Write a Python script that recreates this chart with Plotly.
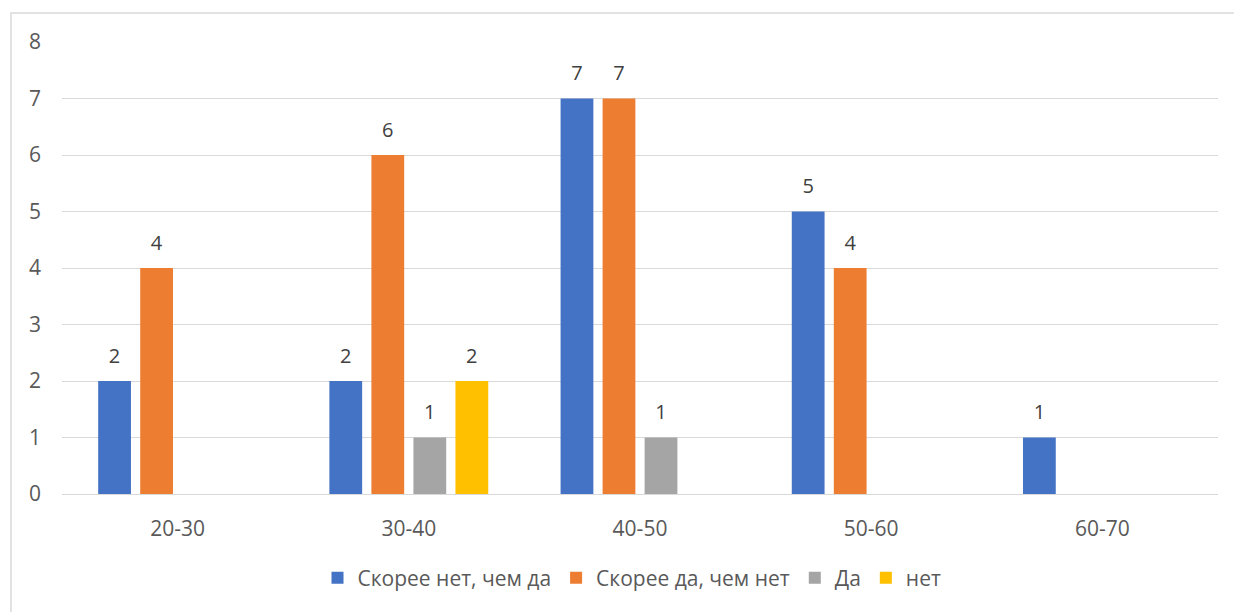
import plotly.graph_objects as go

categories = ["20-30", "30-40", "40-50", "50-60", "60-70"]
series_names = ["Скорее нет, чем да", "Скорее да, чем нет", "Да", "нет"]
values_no_rather = [2, 2, 7, 5, 1]
values_yes_rather = [4, 6, 7, 4, None]
values_yes = [None, 1, 1, None, None]
values_no = [None, 2, None, None, None]
colors = ["#4472C4", "#ED7D31", "#A5A5A5", "#FFC000"]
y_ticks = [0, 1, 2, 3, 4, 5, 6, 7, 8]

all_values = [values_no_rather, values_yes_rather, values_yes, values_no]

fig = go.Figure()
for i, (name, vals, col) in enumerate(zip(series_names, all_values, colors)):
    fig.add_trace(go.Bar(
        x=categories, y=vals, name=name,
        marker=dict(color=col, line=dict(width=0)),
        offsetgroup=str(i),
    ))
for i, (name, vals) in enumerate(zip(series_names, all_values)):
    fig.add_trace(go.Scatter(
        x=categories, y=vals, mode="text+markers", showlegend=False,
        marker=dict(size=20, opacity=0),
        text=[("" if v is None else str(v)) for v in vals],
        textposition="top center",
        textfont=dict(color="#404040", size=20),
        offsetgroup=str(i), cliponaxis=False, hoverinfo="skip",
    ))

L, R, T, B = 62, 16, 42, 118
W, H = 1234, 612
pw, ph = W - L - R, H - T - B

fig.update_layout(
    width=W, height=H,
    margin=dict(l=L, r=R, t=T, b=B),
    paper_bgcolor="white", plot_bgcolor="white",
    font=dict(family="Open Sans", size=21, color="#595959"),
    barmode="group", bargap=0.273, bargroupgap=0.22,
    scattermode="group", scattergap=0.273,
    showlegend=True,
    legend=dict(orientation="h", x=(632 - L) / pw, xanchor="center",
                y=(T + ph - 578) / ph, yanchor="middle",
                font=dict(size=21, color="#595959"),
                itemwidth=30, traceorder="normal"),
    xaxis=dict(showgrid=False, showline=False, zeroline=False,
               ticks="", ticklabelstandoff=20, tickfont=dict(size=21, color="#595959")),
    yaxis=dict(range=[0, 8], tickvals=y_ticks, showgrid=True, gridcolor="#D9D9D9",
               gridwidth=1, zeroline=True, zerolinecolor="#D9D9D9", zerolinewidth=1,
               showline=False, ticks="", ticklabelstandoff=20,
               tickfont=dict(size=21, color="#595959")),
    shapes=[dict(type="rect", xref="paper", yref="paper",
                 x0=(11 - L) / pw, x1=(W + 10 - L) / pw,
                 y0=-(B + 10) / ph, y1=1 + (T - 13) / ph,
                 line=dict(color="#D9D9D9", width=1.5), fillcolor="rgba(0,0,0,0)", layer="below")],
)

fig.write_html("out.html")
